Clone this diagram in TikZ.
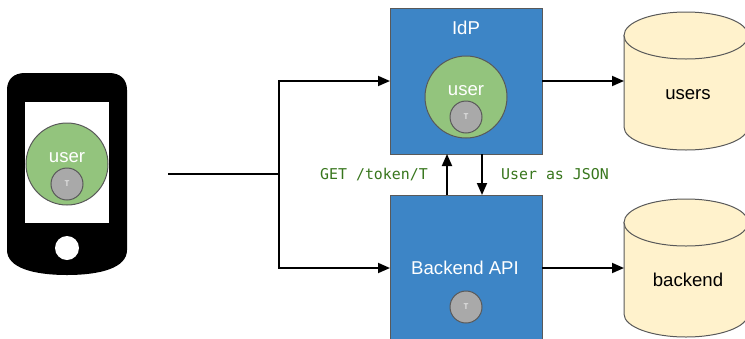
\documentclass[tikz,border=0pt]{standalone}
\usepackage{fontspec}
\setmainfont{Liberation Sans}
\newfontfamily\codefont{DejaVu Sans Mono}
\usetikzlibrary{arrows.meta}
\definecolor{boxblue}{HTML}{3D85C6}
\definecolor{usergreen}{HTML}{93C47D}
\definecolor{tokengray}{HTML}{A9A9A9}
\definecolor{dbcream}{HTML}{FFF2CC}
\definecolor{edgegray}{HTML}{595959}
\definecolor{codegreen}{HTML}{38761D}
\tikzset{
  x=1pt,y=-1pt,
  svc/.style={draw=edgegray,line width=1pt,fill=boxblue,minimum width=152pt,inner sep=0pt,outer sep=0pt,anchor=center},
  usercircle/.style={circle,draw=edgegray,line width=1pt,fill=usergreen,minimum size=82pt,inner sep=0pt,outer sep=0pt},
  token/.style={circle,draw=edgegray,line width=1pt,fill=tokengray,minimum size=32pt,inner sep=0pt,outer sep=0pt,text=white,font=\fontsize{8}{9}\selectfont},
  lighttext/.style={text=white,font=\fontsize{18.6}{22}\selectfont,inner sep=0pt},
  darktext/.style={text=black,font=\fontsize{18.6}{22}\selectfont,inner sep=0pt},
  codetext/.style={text=codegreen,font=\codefont\fontsize{14.9}{18}\selectfont,inner sep=0pt},
  conn/.style={draw=black,line width=1.8pt,-{Triangle[length=12pt,width=10pt]}},
  plainconn/.style={draw=black,line width=1.8pt},
  dbbody/.style={draw=edgegray,line width=1pt,fill=dbcream},
  dbanchor/.style={inner sep=0pt,outer sep=0pt,minimum width=124pt,minimum height=138pt},
}
\begin{document}
\begin{tikzpicture}
\useasboundingbox (0,0) rectangle (745,338);
\clip (0,0) rectangle (745,338);
% phone
\fill[black] (7,90) .. controls (7,79) and (14,73) .. (25,73) -- (109,73)
  .. controls (120,73) and (127,79) .. (127,90) -- (127,250)
  .. controls (127,268) and (100,275) .. (67,275)
  .. controls (34,275) and (7,268) .. (7,250) -- cycle;
\fill[white] (25,102) rectangle (109,223);
\node[circle,fill=white,minimum size=24pt,inner sep=0pt] (homebutton) at (67,248) {};
\node[usercircle] (phoneuser) at (67,164) {};
\node[lighttext] (phoneusertext) at (67,158) {user};
\node[token] (phonetoken) at (67,184) {T};
% IdP
\node[svc,minimum height=146pt] (idp) at (466,81) {};
\node[lighttext] (idptext) at (466,28) {IdP};
\node[usercircle] (idpuser) at (466,97) {};
\node[lighttext] (idpusertext) at (466,91) {user};
\node[token] (idptoken) at (466,117) {T};
% Backend
\node[svc,minimum height=146pt] (api) at (466,268) {};
\node[lighttext] (apitext) at (465,267.5) {Backend API};
\node[token] (apitoken) at (466,307) {T};
% databases
\draw[dbbody] (624,35.5) -- (624,127) .. controls (624,140) and (652,150) .. (686,150)
  .. controls (720,150) and (748,140) .. (748,127) -- (748,35.5) -- cycle;
\draw[dbbody] (624,35.5) .. controls (624,49) and (652,59) .. (686,59) .. controls (720,59) and (748,49) .. (748,35.5)
  .. controls (748,22) and (720,12) .. (686,12) .. controls (652,12) and (624,22) .. (624,35.5) -- cycle;
\node[dbanchor] (users) at (686,81) {};
\node[darktext] (userstext) at (688,95) {users};
\draw[dbbody] (624,222.5) -- (624,314) .. controls (624,327) and (652,337) .. (686,337)
  .. controls (720,337) and (748,327) .. (748,314) -- (748,222.5) -- cycle;
\draw[dbbody] (624,222.5) .. controls (624,236) and (652,246) .. (686,246) .. controls (720,246) and (748,236) .. (748,222.5)
  .. controls (748,209) and (720,199) .. (686,199) .. controls (652,199) and (624,209) .. (624,222.5) -- cycle;
\node[dbanchor] (backend) at (686,268) {};
\node[darktext] (backendtext) at (688,279.5) {backend};
% connectors
\coordinate (start) at (168,174);
\coordinate (fork) at (279,174);
\draw[plainconn] (start) -- (fork);
\draw[conn] (fork) |- (idp.west);
\draw[conn] (fork) |- (api.west);
\draw[conn] (idp.east) -- (users.west);
\draw[conn] (api.east) -- (backend.west);
\draw[conn] (api.north -| 447,0) -- (idp.south -| 447,0);
\draw[conn] (idp.south -| 482,0) -- (api.north -| 482,0);
\node[codetext] (getlabel) at (374,174.5) {GET /token/T};
\node[codetext] (jsonlabel) at (555,174.5) {User as JSON};
\end{tikzpicture}
\end{document}
